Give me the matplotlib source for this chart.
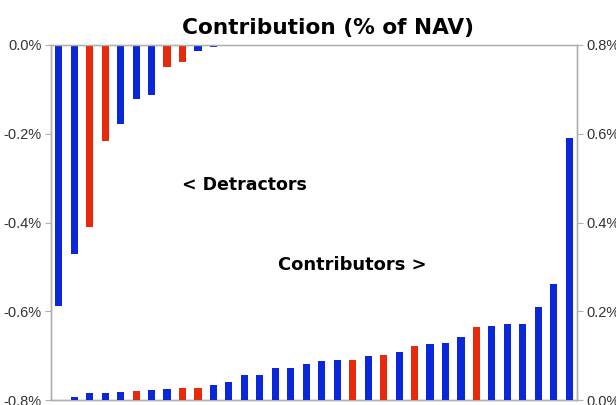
import matplotlib
matplotlib.use("Agg")
import matplotlib.pyplot as plt
from matplotlib.ticker import FuncFormatter

plt.rcParams["font.family"] = ["Liberation Sans", "DejaVu Sans"]

BLUE = "#0a27d9"
RED = "#e62a0b"

# detractors (left axis, % of NAV), slots 0..10
det_pos = list(range(11))
det_vals = [-0.588, -0.471, -0.410, -0.216, -0.179, -0.121, -0.112, -0.050, -0.038, -0.014, -0.005]
det_red = [False, False, True, True, False, False, False, True, True, False, False]

# contributors (right axis, % of NAV), slots 1..33
con_pos = list(range(1, 34))
con_vals = [0.007, 0.015, 0.016, 0.019, 0.021, 0.022, 0.024, 0.027, 0.028, 0.034,
            0.041, 0.056, 0.057, 0.071, 0.072, 0.082, 0.089, 0.091, 0.091, 0.099,
            0.101, 0.108, 0.121, 0.127, 0.128, 0.141, 0.165, 0.166, 0.171, 0.172,
            0.209, 0.262, 0.591]
con_red = [False, False, False, False, True, False, False, True, True, False,
           False, False, False, False, False, False, False, False, True, False,
           True, False, True, False, False, False, True, False, False, False,
           False, False, False]

n_slots = 34
bar_w = 0.46

fig = plt.figure(figsize=(6.16, 4.05), dpi=100)
ax = fig.add_axes([51 / 616, 1 - 400 / 405, (577 - 51) / 616, (400 - 45) / 405])
ax2 = ax.twinx()

ax.bar(det_pos, det_vals, width=bar_w,
       color=[RED if r else BLUE for r in det_red], zorder=3)
ax2.bar(con_pos, con_vals, width=bar_w,
        color=[RED if r else BLUE for r in con_red], zorder=3)

ax.set_xlim(-0.5, n_slots - 0.5)
ax.set_ylim(-0.8, 0.0)
ax2.set_ylim(0.0, 0.8)
ax.set_yticks([0.0, -0.2, -0.4, -0.6, -0.8])
ax2.set_yticks([0.0, 0.2, 0.4, 0.6, 0.8])
fmt = FuncFormatter(lambda v, p: f"{v:.1f}%" if abs(v) > 1e-9 else "0.0%")
ax.yaxis.set_major_formatter(fmt)
ax2.yaxis.set_major_formatter(fmt)
ax.set_xticks([])

for a in (ax, ax2):
    for s in a.spines.values():
        s.set_color("#b0b0b0")
        s.set_linewidth(1.0)
    a.tick_params(axis="y", length=4, width=0.8, color="#b0b0b0",
                  labelsize=10.5, labelcolor="#333333", pad=3)
ax.spines["top"].set_color("#d0d0d0")

bold = dict(family="DejaVu Sans", fontweight="bold")
fig.text(328 / 616, 1 - 34 / 405, "Contribution (% of NAV)", ha="center", va="baseline",
         fontsize=15.6, **bold)
ax.text(0.249, 0.605, "< Detractors", transform=ax.transAxes, ha="left", va="center",
        fontsize=12.5, **bold)
ax.text(0.431, 0.38, "Contributors >", transform=ax.transAxes, ha="left", va="center",
        fontsize=12.9, **bold)

fig.savefig("out.png", dpi=100)
